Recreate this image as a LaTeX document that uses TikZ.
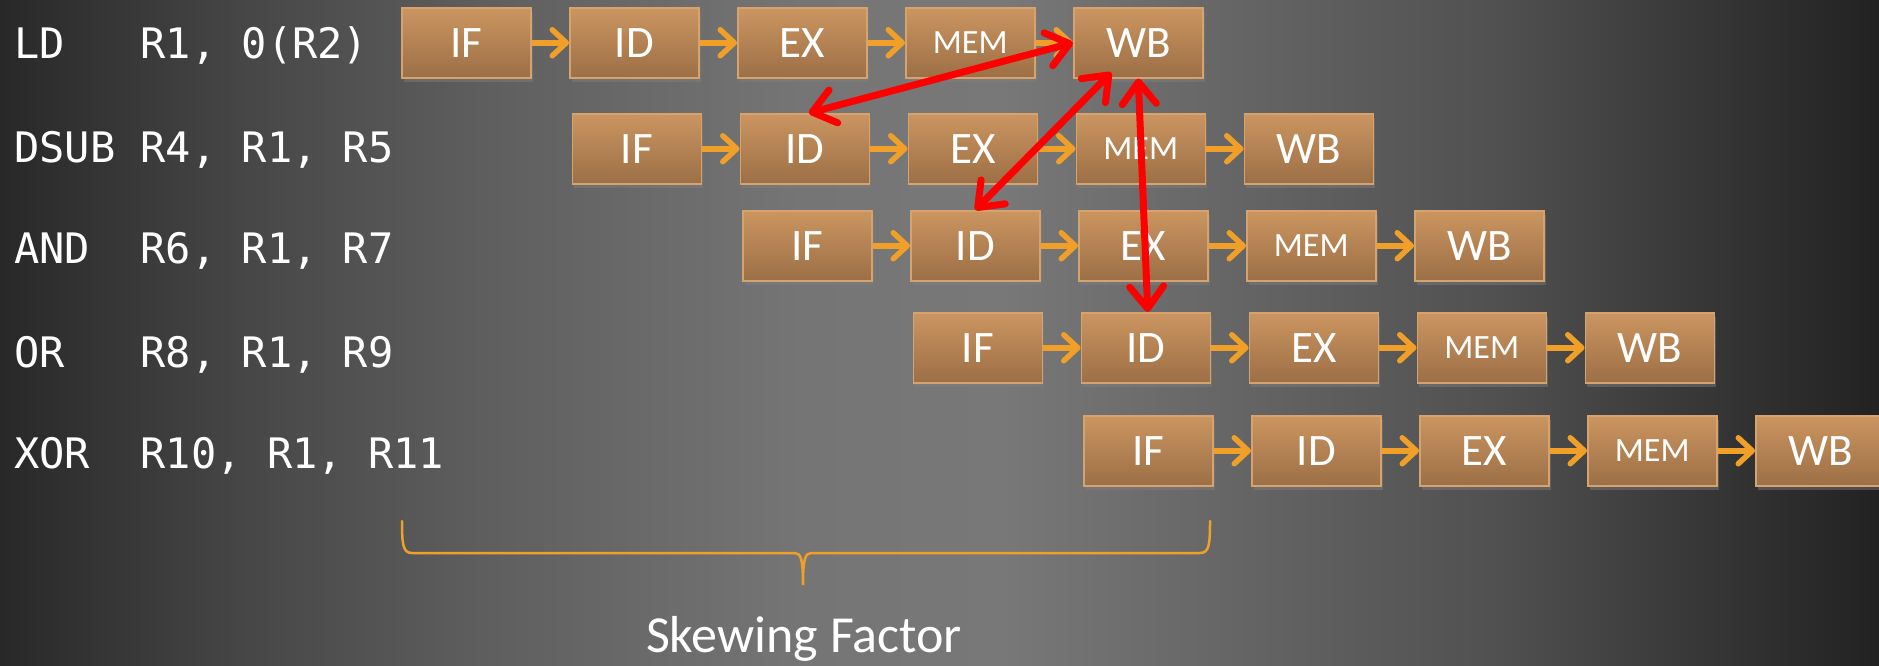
\documentclass[tikz,border=0pt]{standalone}
\usepackage{fontspec}
\setmainfont{Carlito}
\newfontfamily\codefont{DejaVu Sans Mono}
\usetikzlibrary{arrows.meta,shadows}
\definecolor{boxtop}{RGB}{203,149,96}
\definecolor{boxbot}{RGB}{156,111,70}
\definecolor{boxline}{RGB}{214,162,110}
\definecolor{pipe}{RGB}{240,160,40}
\definecolor{hazard}{RGB}{255,0,0}
\definecolor{g0}{RGB}{40,40,40}
\definecolor{g1}{RGB}{70,70,70}
\definecolor{g2}{RGB}{94,94,94}
\definecolor{g3}{RGB}{117,117,117}
\definecolor{g4}{RGB}{120,120,120}
\definecolor{g5}{RGB}{104,104,104}
\definecolor{g6}{RGB}{80,80,80}
\definecolor{g7}{RGB}{55,55,55}
\definecolor{g8}{RGB}{34,34,34}
\pgfdeclarehorizontalshading{bgshade}{100bp}{color(0bp)=(g0); color(25bp)=(g0);
  color(31.39bp)=(g1); color(37.77bp)=(g2); color(46.29bp)=(g3); color(51.61bp)=(g4);
  color(56.93bp)=(g5); color(64.92bp)=(g6); color(70.24bp)=(g7); color(75bp)=(g8);
  color(100bp)=(g8)}
\begin{document}
\begin{tikzpicture}[x=1pt,y=-1pt,
  stage/.style={draw=boxline, line width=1.5pt, top color=boxtop, bottom color=boxbot,
    minimum width=129pt, minimum height=70pt, inner sep=0pt, anchor=north west,
    text=white, font=\fontsize{45}{54}\selectfont,
    drop shadow={shadow xshift=2pt,shadow yshift=-4pt,opacity=0.45}},
  memstage/.style={stage, font=\fontsize{34}{40}\selectfont},
  flow/.style={draw=pipe, line width=5.5pt, -{Straight Barb[length=14pt,width=26pt,round]}},
  hazardarrow/.style={draw=hazard, line width=7pt, line cap=round,
    {Straight Barb[length=22pt,width=34pt,round]}-{Straight Barb[length=22pt,width=34pt,round]}},
  code/.style={anchor=base west, text=white, inner sep=0pt, font=\codefont\fontsize{42}{50}\selectfont},
  bracestyle/.style={draw=pipe, line width=2.5pt, line cap=round}
]
\useasboundingbox (0,0) rectangle (1879,665);
\shade[shading=bgshade] (0,0) rectangle (1879,665);

% instructions
\node[code] (i1) at (14,58)  {LD~~~R1,~0(R2)};
\node[code] (i2) at (14,162) {DSUB~R4,~R1,~R5};
\node[code] (i3) at (14,263) {AND~~R6,~R1,~R7};
\node[code] (i4) at (14,367) {OR~~~R8,~R1,~R9};
\node[code] (i5) at (14,468) {XOR~~R10,~R1,~R11};

% pipeline stages
\foreach \row/\tp in {1/7,2/113,3/210,4/312,5/415}{
  \foreach \col/\lab/\sty in {1/IF/stage,2/ID/stage,3/EX/stage,4/MEM/memstage,5/WB/stage}{
    \pgfmathsetmacro\xl{401+168*(\col-1+\row-1)+2.5*(\row-1)}
    \node[\sty] (r\row c\col) at (\xl,\tp) {\lab};
  }
}
\foreach \row in {1,...,5}{
  \foreach \col [evaluate=\col as \nxt using int(\col+1)] in {1,...,4}{
    \draw[flow] (r\row c\col.east) -- (r\row c\nxt.west);
  }
}

% hazards
\draw[hazardarrow] (r1c5.west) -- ([xshift=4pt]r2c2.north);
\draw[hazardarrow] ([xshift=-27pt,yshift=6pt]r1c5.south) -- (r3c2.north);
\draw[hazardarrow] (r1c5.south) -- ([xshift=2pt]r4c2.north);

% brace
\draw[bracestyle] (402,521) .. controls (402,545) and (403,553) .. (412,553)
  -- (795,553) .. controls (801,553) and (803,560) .. (803,585)
  .. controls (803,560) and (805,553) .. (811,553)
  -- (1200,553) .. controls (1209,553) and (1210,545) .. (1210,521);
\node[text=white, anchor=base, inner sep=0pt, font=\fontsize{52}{62}\selectfont] (skew) at (804,652) {Skewing Factor};
\end{tikzpicture}
\end{document}
